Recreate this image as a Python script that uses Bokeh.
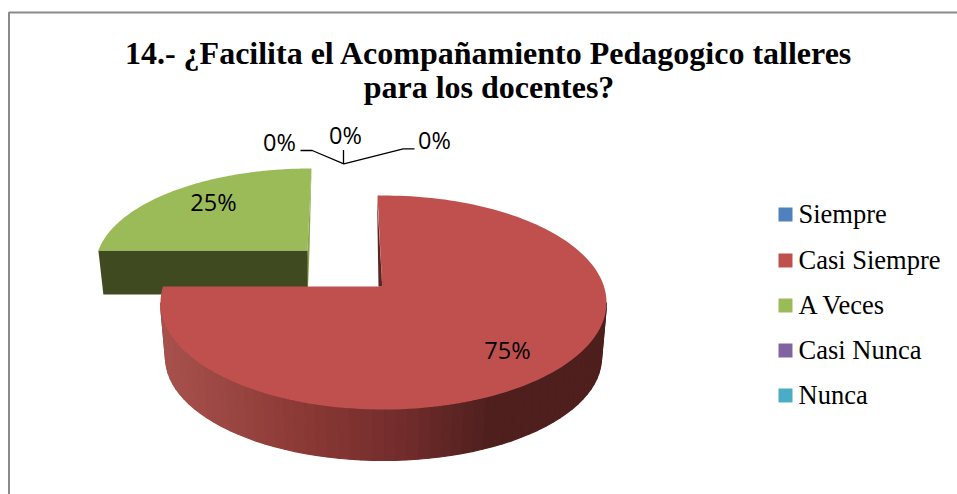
import numpy as np
from bokeh.plotting import figure
from bokeh.models import Range1d
from bokeh.core.properties import value
from bokeh.embed import file_html
from bokeh.resources import INLINE

title_lines = ["14.- ¿Facilita el Acompañamiento Pedagogico talleres", "para los docentes?"]
categories = ["Siempre", "Casi Siempre", "A Veces", "Casi Nunca", "Nunca"]
percent = [0, 75, 25, 0, 0]
colors = ["#4f81bd", "#c0504d", "#9bbb59", "#8064a2", "#4bacc6"]

W, H = 957, 494
p = figure(width=W, height=H, output_backend="svg", toolbar_location=None,
           x_range=Range1d(0, W), y_range=Range1d(H, 0), min_border=0,
           outline_line_color=None, x_axis_type=None, y_axis_type=None)
p.grid.visible = False


def ray_point(theta, apex, c, rx, ry):
    """Point of an ellipse seen from the slice's apex at clockwise angle theta."""
    dx, dy = np.sin(theta) * rx, -np.cos(theta) * ry
    ax, ay = apex[0] - c[0], apex[1] - c[1]
    A = (dx / rx) ** 2 + (dy / ry) ** 2
    B = 2 * (ax * dx / rx ** 2 + ay * dy / ry ** 2)
    C = (ax / rx) ** 2 + (ay / ry) ** 2 - 1
    s = (-B + np.sqrt(B * B - 4 * A * C)) / (2 * A)
    return apex[0] + s * dx, apex[1] + s * dy


def slice_xy(start, end, origin, corner, c, rx, ry):
    th = np.linspace(start, end, 160)
    pts = [ray_point(t, origin, c, rx, ry) for t in th]
    return [corner[0]] + [q[0] for q in pts], [corner[1]] + [q[1] for q in pts]


fr = np.cumsum([0] + percent) / 100 * 2 * np.pi
red_start, red_end = fr[1], fr[2]
green_start, green_end = fr[2], fr[3]

# frame
p.line([8.5, 8.5, W], [H, 12, 12], line_color="#8a8a8a", line_width=2)

# --- green exploded slice
g_origin, g_apex, g_c, g_rx, g_ry = (311, 250), (307, 250), (310, 266), 215, 98
p.patch([311, 309, 307.5, 305], [168, 250, 288, 288], fill_color="#8aa64c", line_color=None)
lx, ly = ray_point(green_start, g_origin, g_c, g_rx, g_ry)
p.patch([lx, g_apex[0], g_apex[0], lx + 5], [ly, ly, ly + 44, ly + 44], fill_color="#404a20", line_color=None)
x, y = slice_xy(green_start, green_end, g_origin, g_apex, g_c, g_rx, g_ry)
p.patch(x, y, fill_color=colors[2], line_color=None)

# --- red slice
r_origin, r_apex, r_c, r_rx, r_ry = (377, 286), (381.7, 286), (383, 302), 223, 107
b_c, b_rx, b_ry = (383, 357), 218, 103
ts = np.linspace(0, np.pi, 61)
stops_x = [165, 300, 400, 490, 601]
stops_col = [(168, 82, 77), (140, 58, 54), (115, 45, 44), (78, 31, 29), (78, 31, 29)]
for t0, t1 in zip(ts[:-1], ts[1:]):
    xs = [r_c[0] + r_rx * np.cos(t0), r_c[0] + r_rx * np.cos(t1),
          b_c[0] + b_rx * np.cos(t1), b_c[0] + b_rx * np.cos(t0)]
    ys = [r_c[1] + r_ry * np.sin(t0), r_c[1] + r_ry * np.sin(t1),
          b_c[1] + b_ry * np.sin(t1), b_c[1] + b_ry * np.sin(t0)]
    mid = b_c[0] + b_rx * np.cos((t0 + t1) / 2)
    rgb = [int(np.interp(mid, stops_x, [c[i] for c in stops_col])) for i in range(3)]
    col = "#%02x%02x%02x" % tuple(rgb)
    p.patch(xs, ys, fill_color=col, line_color=col, line_width=1.2)

x, y = slice_xy(red_start, red_end, r_origin, r_apex, r_c, r_rx, r_ry)
p.patch(x, y, fill_color=colors[1], line_color=None)
p.patch([376.5, 378, 381.7], [195, 286, 286], fill_color="#5a2422", line_color=None)

# --- data labels
label_font = value("Open Sans")
lab = dict(text_font=label_font, text_font_size="23.5px", text_color="#000000",
           text_align="center", text_baseline="middle")
p.text([213], [201], text=[f"{percent[2]}%"], **lab)
p.text([507], [349], text=[f"{percent[1]}%"], **lab)
p.text([279, 345, 434], [141, 134, 139],
       text=[f"{percent[0]}%", f"{percent[3]}%", f"{percent[4]}%"], **lab)
p.line([300, 311.7, 343.3, 402.7, 414], [150, 150, 163.3, 148.3, 148.3], line_color="#000000", line_width=1.3)
p.line([343, 343], [149.5, 163.3], line_color="#000000", line_width=1.3)

# --- title
p.text([488.5, 488.5], [52, 86], text=title_lines, text_font=value("Liberation Serif"),
       text_font_size="32px", text_font_style="bold", text_color="#000000",
       text_align="center", text_baseline="middle")

# --- legend
ly0 = np.array([214, 260, 305, 350, 395])
p.rect(np.full(5, 785), ly0, width=14, height=14, fill_color=colors, line_color=None)
p.text(np.full(5, 798), ly0 - 1, text=categories, text_font=value("Liberation Serif"),
       text_font_size="26.5px", text_color="#000000", text_align="left", text_baseline="middle")

open("out.html", "w").write(file_html(p, INLINE))
